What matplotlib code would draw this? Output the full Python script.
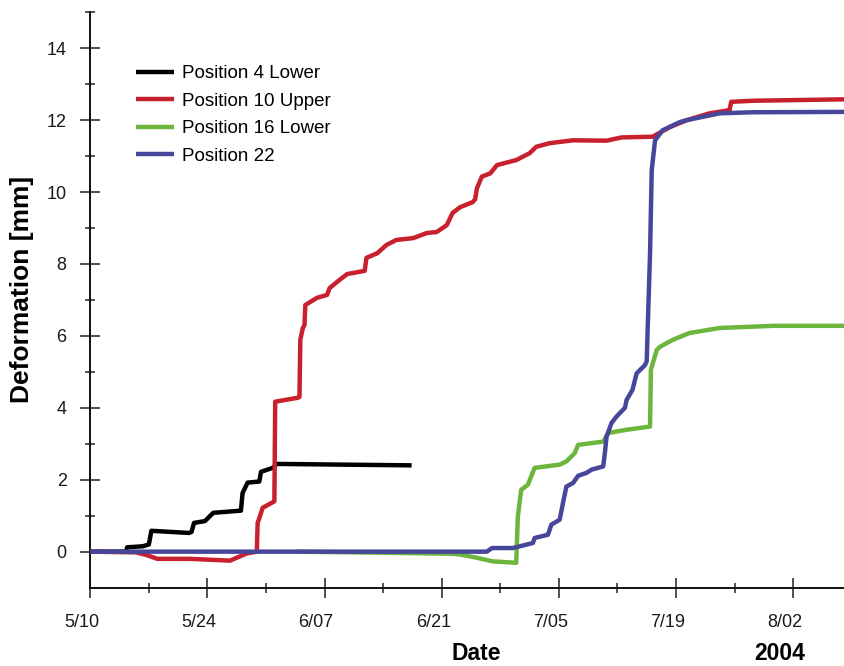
import matplotlib
matplotlib.use("Agg")
import matplotlib.pyplot as plt
from matplotlib.ticker import FixedLocator
from matplotlib.transforms import ScaledTranslation

plt.rcParams['font.family'] = ['Liberation Sans', 'DejaVu Sans']

# Time axis: days since 5/10/2004
tick_days = [0, 14, 28, 42, 56, 70, 84]
tick_labels = ["5/10", "5/24", "6/07", "6/21", "7/05", "7/19", "8/02"]

# Position 4 Lower
p4_day = [0, 4.3, 4.4, 6.3, 7.0, 7.3, 11.8, 12.1, 12.4, 13.7, 14.7, 18.0, 18.2, 18.8,
          20.2, 20.4, 21.8, 22.3, 30.0, 38.4]
p4_mm = [0, 0.0, 0.12, 0.15, 0.2, 0.58, 0.52, 0.55, 0.8, 0.85, 1.08, 1.14, 1.63, 1.92,
         1.95, 2.22, 2.33, 2.44, 2.42, 2.4]

# Position 10 Upper
p10_day = [0, 5.5, 6.8, 8.0, 11.9, 16.7, 18.7, 19.9, 20.0, 20.3, 20.6, 21.7, 22.0, 22.1,
           24.8, 25.0, 25.1, 25.4, 25.6, 25.7, 27.1, 28.3, 28.6, 29.8, 30.7, 32.8, 33.0,
           34.3, 35.4, 36.6, 38.6, 40.2, 41.4, 42.6, 43.3, 44.2, 45.7, 46.0, 46.2, 46.8,
           47.8, 48.6, 50.9, 52.5, 53.3, 54.9, 57.7, 61.7, 63.5, 67.2, 69.3, 71.3, 74.0,
           76.4, 76.6, 79.2, 90.2]
p10_mm = [0, -0.02, -0.1, -0.2, -0.2, -0.25, -0.05, 0.0, 0.8, 1.0, 1.22, 1.36, 1.4, 4.17,
          4.28, 4.3, 5.89, 6.22, 6.3, 6.86, 7.06, 7.14, 7.33, 7.56, 7.72, 7.81, 8.17,
          8.3, 8.53, 8.67, 8.72, 8.86, 8.89, 9.08, 9.42, 9.58, 9.72, 9.8, 10.1, 10.43,
          10.52, 10.75, 10.89, 11.08, 11.26, 11.36, 11.44, 11.43, 11.52, 11.54, 11.81, 12.0, 12.19,
          12.28, 12.51, 12.54, 12.58]

# Position 16 Lower
p16_day = [24.5, 35.0, 43.3, 44.2, 46.2, 48.1, 50.9, 51.1, 51.5, 52.3, 53.1, 56.1, 56.9,
           57.9, 58.3, 61.3, 61.9, 64.1, 66.9, 67.0, 67.7, 68.1, 69.6, 71.6, 75.2, 81.6, 90.2]
p16_mm = [0.0, -0.03, -0.06, -0.08, -0.17, -0.27, -0.31, 0.98, 1.72, 1.86, 2.33, 2.42, 2.51,
          2.74, 2.97, 3.06, 3.3, 3.39, 3.48, 5.06, 5.61, 5.7, 5.89, 6.08, 6.22, 6.28, 6.28]

# Position 22
p22_day = [0, 47.4, 48.0, 50.5, 52.9, 53.1, 54.7, 55.1, 56.1, 56.5, 56.9, 57.7, 58.3, 59.3,
           59.9, 61.3, 61.5, 61.7, 62.3, 62.9, 63.9, 64.1, 64.8, 65.3, 66.3, 66.5, 66.6,
           66.9, 67.1, 67.5, 68.4, 70.5, 71.3, 75.2, 79.2, 90.2]
p22_mm = [0, 0.0, 0.1, 0.1, 0.24, 0.38, 0.47, 0.75, 0.89, 1.36, 1.81, 1.91, 2.11, 2.19,
          2.28, 2.37, 2.74, 3.2, 3.58, 3.76, 4.0, 4.22, 4.5, 4.96, 5.19, 5.3, 6.08,
          8.3, 10.61, 11.44, 11.72, 11.95, 12.0, 12.19, 12.22, 12.23]

series = [
    ("Position 4 Lower", p4_day, p4_mm, "#000000"),
    ("Position 10 Upper", p10_day, p10_mm, "#c8202c"),
    ("Position 16 Lower", p16_day, p16_mm, "#6db63e"),
    ("Position 22", p22_day, p22_mm, "#46469a"),
]

W, H = 845, 666
fig = plt.figure(figsize=(W / 100, H / 100), dpi=100)
ax = fig.add_axes([90.3 / W, (H - 587.6) / H, (845 - 90.3) / W, (587.6 - 12.3) / H])

for i, (name, d, v, c) in enumerate(series):
    ax.plot(d, v, color=c, lw=3.2, label=name, zorder=2 + i,
            solid_joinstyle='round', solid_capstyle='butt')

ax.set_xlim(0, 90.2)
ax.set_ylim(-1, 15)

for s in ('top', 'right'):
    ax.spines[s].set_visible(False)
for s in ('left', 'bottom'):
    ax.spines[s].set_linewidth(1.4)
    ax.spines[s].set_color('#111111')

ax.xaxis.set_major_locator(FixedLocator(tick_days))
ax.set_xticklabels(tick_labels)
ax.xaxis.set_minor_locator(FixedLocator([7, 21, 35, 49, 63, 77]))
ax.yaxis.set_major_locator(FixedLocator(list(range(0, 15, 2))))
ax.yaxis.set_minor_locator(FixedLocator(list(range(1, 16, 2))))

ax.tick_params(which='major', direction='inout', length=14.4, width=1.1,
               color='#222222', labelsize=13, labelcolor='#1a1a1a')
ax.tick_params(which='minor', direction='inout', length=7.2, width=1.1, color='#222222')
ax.tick_params(axis='x', which='major', pad=11.8)
ax.tick_params(axis='y', which='major', pad=9.8)

shift = ScaledTranslation(-8.5 / 100, 0, fig.dpi_scale_trans)
for lab in ax.get_xticklabels():
    lab.set_transform(lab.get_transform() + shift)

fig.text(476.7 / W, 1 - 660 / H, "Date", fontsize=16.5, fontweight='bold',
         ha='center', va='baseline')
fig.text(780 / W, 1 - 660 / H, "2004", fontsize=16.5, fontweight='bold',
         ha='center', va='baseline')
fig.text(22 / W, 1 - 289 / H, "Deformation [mm]", fontsize=19, fontweight='bold',
         ha='center', va='center', rotation=90)

leg = ax.legend(loc='upper left', bbox_to_anchor=(136 / W, 1 - 65 / H),
                bbox_transform=fig.transFigure, frameon=False, fontsize=13.5,
                handlelength=2.05, handletextpad=0.42, labelspacing=0.56,
                borderpad=0, borderaxespad=0)
for line in leg.get_lines():
    line.set_linewidth(3.2)

fig.savefig("out.png", dpi=100)
